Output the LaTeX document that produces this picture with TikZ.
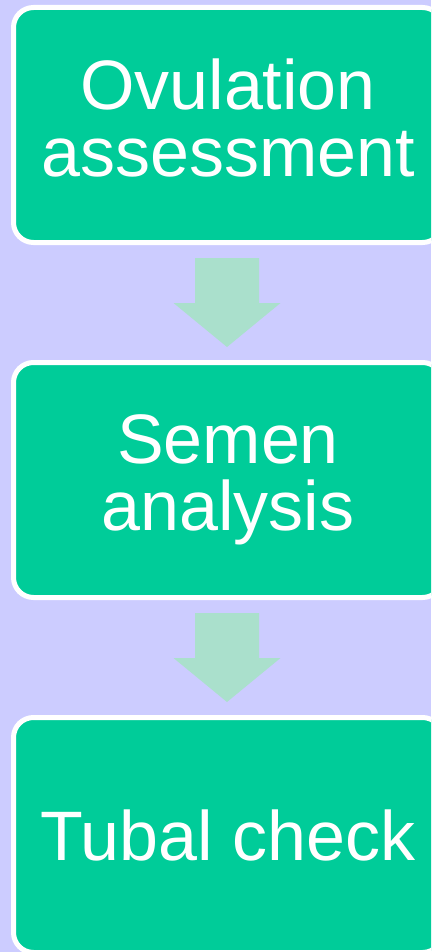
\documentclass[tikz,border=0pt]{standalone}
\usepackage{fontspec}
\setmainfont{Liberation Sans}
\usetikzlibrary{calc}
\definecolor{bglav}{HTML}{CCCCFF}
\definecolor{stepgreen}{HTML}{00CC99}
\definecolor{arrowgreen}{HTML}{AAE0CC}
\begin{document}
\begin{tikzpicture}
[x=1pt,y=-1pt%
,stepbox/.style={fill=stepgreen,%
	draw=white,%
	line width=5pt,%
	rounded corners=20pt,%
	minimum width=429pt,%
	minimum height=235pt,%
	align=center,%
	text=white,%
	font=\fontsize{70}{67}\selectfont}%
,blockarrow/.style={fill=arrowgreen}]
\useasboundingbox (0,0) rectangle (431,952);
\fill[bglav] (0,0) rectangle (431,952);
\clip (0,0) rectangle (431,952);
\node[stepbox] (ovul) at (228,125) {Ovulation\\assessment\vphantom{y}};
\node[stepbox] (semen) at (228,480) {Semen\\analysis};
\node[stepbox] (tubal) at (228,835) {Tubal check};
% arrows between the steps
\coordinate (m1) at ($(ovul.south)!0.5!(semen.north)$);
\coordinate (m2) at ($(semen.south)!0.5!(tubal.north)$);
\foreach \m in {m1,m2}
	\fill[blockarrow] ($(\m)+(-33,-44.5)$) -- ($(\m)+(31,-44.5)$)
		-- ($(\m)+(31,0.5)$) -- ($(\m)+(52.5,0.5)$)
		-- ($(\m)+(-1,44.5)$) -- ($(\m)+(-54.5,0.5)$)
		-- ($(\m)+(-33,0.5)$) -- cycle;
\end{tikzpicture}
\end{document}
